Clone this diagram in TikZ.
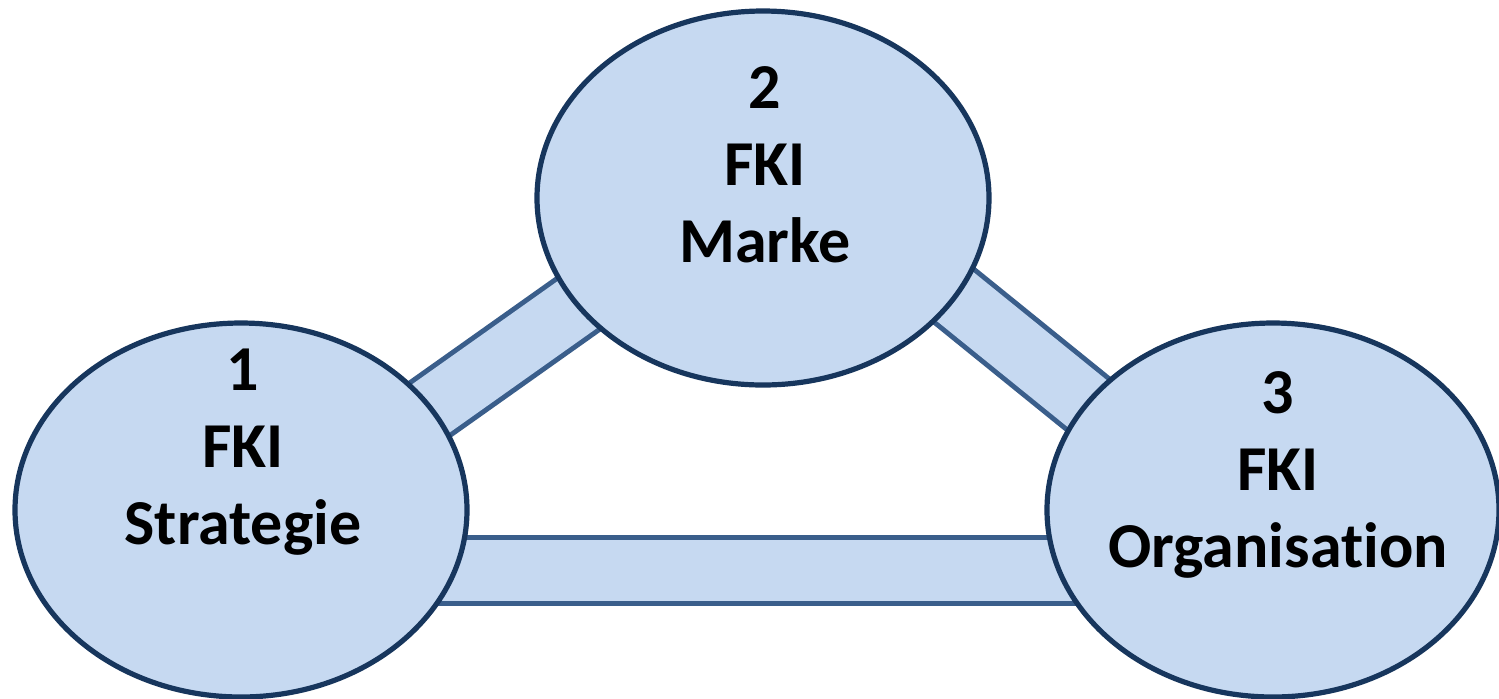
\documentclass[tikz,border=0pt]{standalone}
\usepackage{fontspec}
\setmainfont{Carlito}[Ligatures=NoCommon]
\usetikzlibrary{calc,backgrounds,shapes.geometric}

\definecolor{bubblefill}{HTML}{C6D9F1}
\definecolor{bubbleline}{HTML}{17365D}
\definecolor{barline}{HTML}{3A5E8B}

\tikzset{
  bubble/.style={ellipse, draw=bubbleline, fill=bubblefill, line width=2.6pt,
    minimum width=226pt, minimum height=187pt, inner sep=0pt},
  bubbletext/.style={align=center, inner sep=0pt,
    font=\fontsize{32}{38.5}\selectfont\bfseries},
  linkbar/.style={draw=barline, line width=2.5pt, double=bubblefill,
    double distance=30.5pt}
}

\begin{document}
\begin{tikzpicture}[x=0.5pt, y=-0.5pt]
  \useasboundingbox (0,0) rectangle (1499,698);

  % the three areas
  \node[bubble] (e1) at (241,510) {};
  \node[bubble] (e2) at (763,198) {};
  \node[bubble] (e3) at (1273,510) {};

  \node[bubbletext] (t1) at ($(e1.center)+(2,-58)$) {1\\FKI\\Strategie};
  \node[bubbletext] (t2) at ($(e2.center)+(2,-33)$) {2\\FKI\\Marke};
  \node[bubbletext] (t3) at ($(e3.center)+(5,-35)$) {3\\FKI\\Organisation};

  % bars joining the areas, behind them
  \begin{pgfonlayer}{background}
    \draw[linkbar] ($(e1.center)+(0,33)$) -- ($(e2.center)+(0,-25)$);
    \draw[linkbar] ($(e2.center)+(0,-57)$) -- ($(e3.center)+(0,44)$);
    \draw[linkbar] ($(e1.center)+(0,60)$) -- ($(e3.center)+(0,60)$);
  \end{pgfonlayer}
\end{tikzpicture}
\end{document}
